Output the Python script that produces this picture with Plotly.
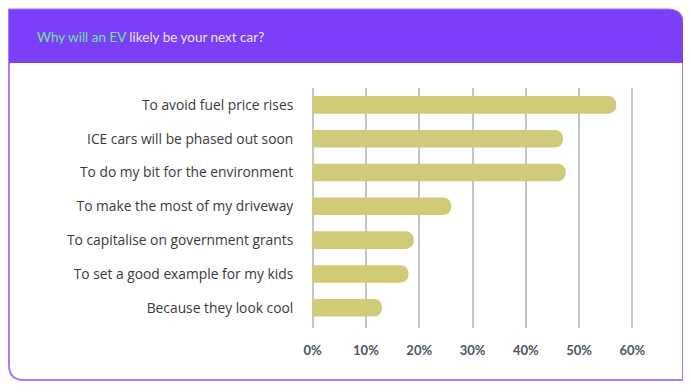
import plotly.graph_objects as go

categories = [
    "To avoid fuel price rises",
    "ICE cars will be phased out soon",
    "To do my bit for the environment",
    "To make the most of my driveway",
    "To capitalise on government grants",
    "To set a good example for my kids",
    "Because they look cool",
]
values = [57, 47, 47.5, 26, 19, 18, 13]
tick_vals = [0, 10, 20, 30, 40, 50, 60]
tick_text = ["0%", "10%", "20%", "30%", "40%", "50%", "60%"]

OFF = 8  # page body margin
W, H = 691 - OFF, 392 - OFF
L, R, T, B = 310 - OFF, 56, 88 - OFF, 64
PW, PH = W - L - R, H - T - B


def px(x):
    # page pixel -> paper coordinate
    return (x - OFF - L) / PW


def py(y):
    return 1 - (y - OFF - T) / PH


fig = go.Figure()
fig.add_trace(go.Bar(
    x=values, y=categories, orientation="h",
    marker=dict(color="#D0CB78", line=dict(width=0)),
    width=0.52,
    hoverinfo="skip",
))

x0, x1, y0, y1, yh = 9, 683, 9.5, 380, 63
r = 15


def path_header():
    return (f"M {px(x0)},{py(y0)} L {px(x1-r)},{py(y0)} "
            f"Q {px(x1)},{py(y0)} {px(x1)},{py(y0+r)} "
            f"L {px(x1)},{py(yh)} L {px(x0)},{py(yh)} Z")


def path_frame():
    return (f"M {px(x0)},{py(y0)} L {px(x1-r)},{py(y0)} "
            f"Q {px(x1)},{py(y0)} {px(x1)},{py(y0+r)} "
            f"L {px(x1)},{py(y1)} L {px(x0+r)},{py(y1)} "
            f"Q {px(x0)},{py(y1)} {px(x0)},{py(y1-r)} Z")


shapes = [
    dict(type="path", xref="paper", yref="paper", path=path_frame(),
         fillcolor="white", line=dict(color="#A77BFF", width=2), layer="below"),
    dict(type="path", xref="paper", yref="paper", path=path_header(),
         fillcolor="#7B3FF8", line=dict(width=0), layer="below"),
]

fig.update_layout(
    width=W, height=H,
    margin=dict(l=L, r=R, t=T, b=B, pad=0),
    paper_bgcolor="white", plot_bgcolor="rgba(0,0,0,0)",
    showlegend=False,
    barcornerradius=8,
    shapes=shapes,
    font=dict(family="Open Sans", color="#3A3A40"),
    annotations=[dict(
        xref="paper", yref="paper", x=px(35), y=py(37),
        xanchor="left", yanchor="middle", showarrow=False,
        text="<span style='color:#6EE59A'>Why will an EV</span> likely be your next car?",
        font=dict(size=13.5, color="#EBE2FF", family="Lato"),
    )],
)
fig.update_xaxes(
    range=[-0.5, 60.5], tickvals=tick_vals, ticktext=tick_text,
    showgrid=True, gridcolor="#C4C4C4", gridwidth=1.5, zeroline=False,
    showline=False, ticks="outside", ticklen=10, tickcolor="rgba(0,0,0,0)",
    tickfont=dict(size=13, color="#4B5563", family="Lato", weight="bold"),
    fixedrange=True,
)
fig.update_yaxes(
    range=[6.6, -0.5], categoryorder="array", categoryarray=categories,
    showgrid=False, zeroline=False, showline=False,
    ticks="outside", ticklen=13, tickcolor="rgba(0,0,0,0)",
    tickfont=dict(size=13.8, color="#3A3A40", family="Open Sans"),
    fixedrange=True,
)
fig.write_html("out.html", config={"displayModeBar": False})
